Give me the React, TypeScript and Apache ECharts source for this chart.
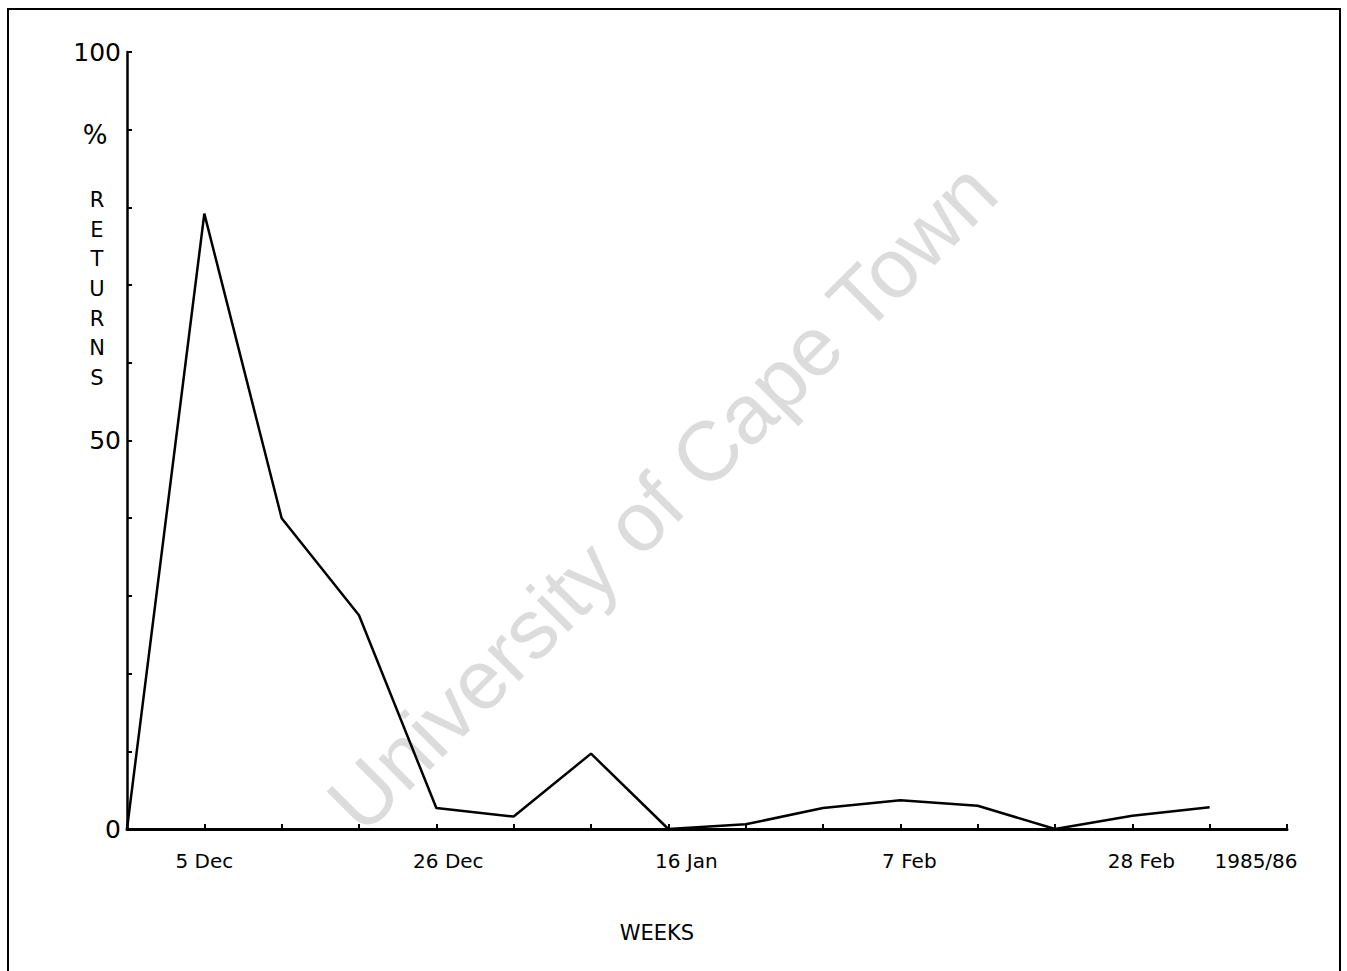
import React, { useEffect, useRef } from "react";
import * as echarts from "echarts";

const weekLabels = ["", "5 Dec", "", "", "26 Dec", "", "", "16 Jan", "", "", "7 Feb", "", "", "28 Feb", "", "1985/86"];
const returnsPct = [0, 79.2, 40, 27.5, 2.7, 1.6, 9.7, 0, 0.6, 2.7, 3.7, 3.0, 0, 1.7, 2.8];
const yLabelValues = [0, 50, 100];
const yTitleChars = ["R", "E", "T", "U", "R", "N", "S"];
const watermarkText = "University of Cape Town";

const FONT = "'DejaVu Sans', sans-serif";

const baseLabel = { fontFamily: FONT, fontSize: 20, color: "#000" };
// label style shifts (rich padding) keyed by label text
const labelRich: Record<string, any> = {
  l0: { ...baseLabel },
  l13: { ...baseLabel, padding: [0, 0, 0, 24] },
  l21: { ...baseLabel, padding: [0, 0, 0, 36] },
  l12: { ...baseLabel, padding: [0, 0, 0, 18] },
  lm32: { ...baseLabel, padding: [0, 62, 0, 0] },
};
const labelStyleKey: Record<string, string> = {
  "5 Dec": "l0",
  "26 Dec": "l13",
  "16 Jan": "l21",
  "7 Feb": "l12",
  "28 Feb": "l12",
  "1985/86": "lm32",
};

export default function App() {
  const ref = useRef<HTMLDivElement>(null);
  useEffect(() => {
    if (!ref.current) return;
    const chart = echarts.init(ref.current, undefined, { renderer: "svg" });
    chart.setOption({
      animation: false,
      backgroundColor: "#ffffff",
      grid: { left: 127, right: 60, top: 52, bottom: 142, containLabel: false },
      xAxis: {
        type: "category",
        data: weekLabels,
        boundaryGap: false,
        axisLine: { lineStyle: { color: "#000", width: 3 } },
        axisTick: { show: true, inside: true, length: 5, interval: 0, lineStyle: { color: "#000", width: 2 } },
        axisLabel: {
          interval: 0,
          margin: 22,
          formatter: (v: string) => (v ? `{${labelStyleKey[v] || "l0"}|${v}}` : ""),
          rich: labelRich,
        },
        splitLine: { show: false },
      },
      yAxis: {
        type: "value",
        min: 0,
        max: 100,
        interval: 10,
        axisLine: { show: true, lineStyle: { color: "#000", width: 2.5 } },
        axisTick: { show: true, inside: true, length: 5, lineStyle: { color: "#000", width: 2 } },
        axisLabel: {
          margin: 6,
          fontFamily: FONT,
          fontSize: 25,
          color: "#000",
          formatter: (v: number) => (yLabelValues.includes(v) ? String(v) : ""),
        },
        splitLine: { show: false },
      },
      series: [
        {
          type: "line",
          data: returnsPct,
          showSymbol: false,
          symbol: "none",
          lineStyle: { color: "#000", width: 2.5 },
          z: 5,
        },
      ],
      graphic: [
        {
          type: "rect",
          shape: { x: 8, y: 9, width: 1332, height: 1000 },
          style: { stroke: "#000", lineWidth: 2, fill: "none" },
          z: 1,
        },
        {
          type: "text",
          x: 662,
          y: 497,
          rotation: Math.PI / 4,
          z: 0,
          style: {
            text: watermarkText,
            fontFamily: "'Liberation Sans', Arial, sans-serif",
            fontSize: 84,
            fill: "#dcdcdc",
            align: "center",
            verticalAlign: "middle",
          },
        },
        {
          type: "text",
          x: 95,
          y: 135,
          style: {
            text: "%",
            fontFamily: FONT,
            fontSize: 26,
            fill: "#000",
            align: "center",
            verticalAlign: "middle",
          },
        },
        {
          type: "text",
          x: 97,
          y: 185,
          style: {
            text: yTitleChars.join("\n"),
            fontFamily: FONT,
            fontSize: 21,
            lineHeight: 29.7,
            fill: "#000",
            align: "center",
            verticalAlign: "top",
          },
        },
        {
          type: "text",
          x: 657,
          y: 933,
          style: {
            text: "WEEKS",
            fontFamily: FONT,
            fontSize: 21,
            fill: "#000",
            align: "center",
            verticalAlign: "middle",
          },
        },
      ],
    });
    return () => chart.dispose();
  }, []);
  return (
    <div
      ref={ref}
      style={{ position: "absolute", left: 0, top: 0, width: 1347, height: 971 }}
    />
  );
}
